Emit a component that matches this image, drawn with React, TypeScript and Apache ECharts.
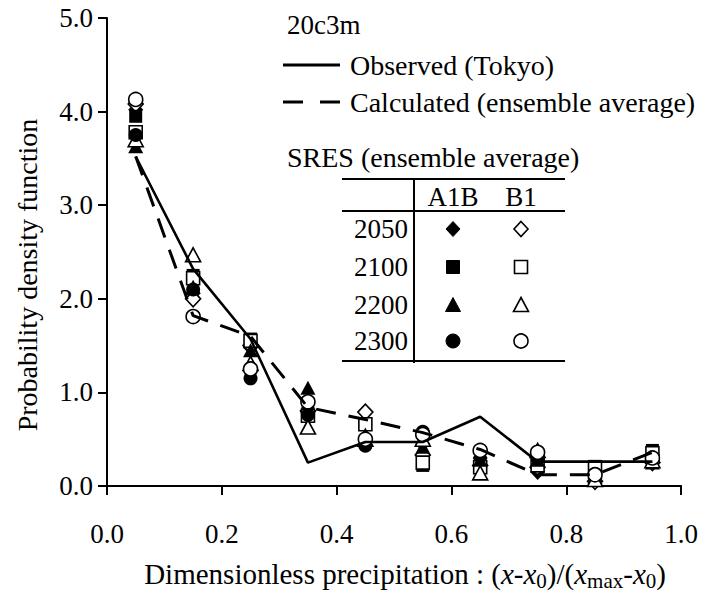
import React, { useEffect, useRef } from "react";
import * as echarts from "echarts";

const FONT = "'Liberation Serif', 'Times New Roman', Times, 'DejaVu Serif', serif";

// x positions (class centres of the dimensionless precipitation)
const xCenters = [0.05, 0.15, 0.25, 0.35, 0.45, 0.55, 0.65, 0.75, 0.85, 0.95];
const xTickLabels = ["0.0", "0.2", "0.4", "0.6", "0.8", "1.0"];
const yTickLabels = ["0.0", "1.0", "2.0", "3.0", "4.0", "5.0"];

// lines
const observedTokyo = [3.52, 2.32, 1.57, 0.25, 0.47, 0.47, 0.74, 0.26, 0.26, 0.26];
const calculatedAvg = [3.52, 1.82, 1.6, 0.84, 0.71, 0.57, 0.39, 0.12, 0.12, 0.36];

// SRES ensemble averages
const a1b2050 = [4.02, 2.06, 1.48, 0.78, 0.52, 0.45, 0.3, 0.15, 0.08, 0.28];
const b12050 = [4.08, 2.0, 1.5, 0.8, 0.79, 0.33, 0.22, 0.2, 0.05, 0.25];
const a1b2100 = [3.95, 2.25, 1.57, 0.78, 0.47, 0.22, 0.25, 0.25, 0.21, 0.38];
const b12100 = [3.78, 2.22, 1.55, 0.75, 0.66, 0.25, 0.2, 0.22, 0.2, 0.35];
const a1b2200 = [3.63, 2.13, 1.45, 1.05, 0.55, 0.42, 0.28, 0.28, 0.1, 0.25];
const b12200 = [3.7, 2.47, 1.31, 0.63, 0.5, 0.5, 0.14, 0.38, 0.07, 0.27];
const a1b2300 = [3.75, 2.1, 1.15, 0.76, 0.43, 0.58, 0.38, 0.3, 0.13, 0.3];
const b12300 = [4.13, 1.81, 1.25, 0.9, 0.5, 0.55, 0.38, 0.36, 0.12, 0.3];

const years = ["2050", "2100", "2200", "2300"];
const scenarios = ["A1B", "B1"];

const markerSeries = [
  { name: "A1B 2050", data: a1b2050, symbol: "diamond", size: [15, 16], open: false },
  { name: "B1 2050", data: b12050, symbol: "diamond", size: [15, 16], open: true },
  { name: "A1B 2100", data: a1b2100, symbol: "rect", size: [13, 13], open: false },
  { name: "B1 2100", data: b12100, symbol: "rect", size: [13, 13], open: true },
  { name: "A1B 2200", data: a1b2200, symbol: "triangle", size: [15, 14], open: false },
  { name: "B1 2200", data: b12200, symbol: "triangle", size: [15, 14], open: true },
  { name: "A1B 2300", data: a1b2300, symbol: "circle", size: [14, 14], open: false },
  { name: "B1 2300", data: b12300, symbol: "circle", size: [14, 14], open: true },
];

function pairs(vals: number[]) {
  return xCenters.map((x, i) => [x, vals[i]]);
}

function tableMarker(kind: string, cx: number, cy: number, open: boolean) {
  const style = open
    ? { fill: "#fff", stroke: "#000", lineWidth: 1.6 }
    : { fill: "#000", stroke: "#000", lineWidth: 1 };
  if (kind === "diamond") {
    return { type: "polygon", shape: { points: [[cx, cy - 7.5], [cx + 7, cy], [cx, cy + 7.5], [cx - 7, cy]] }, style };
  }
  if (kind === "rect") {
    return { type: "rect", shape: { x: cx - 6.5, y: cy - 6.5, width: 13, height: 13 }, style };
  }
  if (kind === "triangle") {
    return { type: "polygon", shape: { points: [[cx, cy - 7.5], [cx + 7.5, cy + 6.5], [cx - 7.5, cy + 6.5]] }, style };
  }
  return { type: "circle", shape: { cx, cy, r: 7 }, style };
}

function txt(text: string, x: number, y: number, align: string = "left", size: number = 28) {
  return {
    type: "text",
    style: {
      text,
      x,
      y,
      fill: "#000",
      fontSize: size,
      fontFamily: FONT,
      align,
      verticalAlign: "middle",
      textAlign: align,
      textVerticalAlign: "middle",
    },
  };
}

function hline(x1: number, x2: number, y: number, w = 2, dash?: number[]) {
  return {
    type: "line",
    shape: { x1, y1: y, x2, y2: y },
    style: { stroke: "#000", lineWidth: w, lineDash: dash },
  };
}

export default function App() {
  const ref = useRef<HTMLDivElement>(null);

  useEffect(() => {
    if (!ref.current) return;
    const chart = echarts.init(ref.current, null, { renderer: "svg" });

    const graphics: any[] = [];
    graphics.push(txt("20c3m", 287, 25, "left", 27));
    graphics.push(hline(283, 340, 65, 3));
    graphics.push(txt("Observed (Tokyo)", 350, 65));
    graphics.push(hline(283, 340, 102, 3, [20, 17]));
    graphics.push(txt("Calculated (ensemble average)", 350, 102));
    graphics.push(txt("SRES (ensemble average)", 287, 157));
    // table
    graphics.push(hline(342, 565, 179));
    graphics.push(hline(342, 565, 211));
    graphics.push(hline(342, 565, 361));
    graphics.push({
      type: "line",
      shape: { x1: 414, y1: 179, x2: 414, y2: 363 },
      style: { stroke: "#000", lineWidth: 2 },
    });
    const colX = [453, 521];
    graphics.push(txt(scenarios[0], colX[0], 197, "center", 27));
    graphics.push(txt(scenarios[1], colX[1], 197, "center", 27));
    const rowY = [229, 267, 305, 341];
    const kinds = ["diamond", "rect", "triangle", "circle"];
    years.forEach((yr, r) => {
      graphics.push(txt(yr, 408, rowY[r], "right", 27));
      graphics.push(tableMarker(kinds[r], colX[0], rowY[r], false));
      graphics.push(tableMarker(kinds[r], colX[1], rowY[r], true));
    });

    const series: any[] = markerSeries.map((s) => ({
      name: s.name,
      type: "scatter",
      data: pairs(s.data),
      symbol: s.symbol,
      symbolSize: s.size,
      z: 2,
      itemStyle: s.open
        ? { color: "#fff", borderColor: "#000", borderWidth: 1.6, opacity: 1 }
        : { color: "#000", borderColor: "#000", borderWidth: 0, opacity: 1 },
      emphasis: { disabled: true },
    }));
    series.push({
      name: "Observed (Tokyo)",
      type: "line",
      data: pairs(observedTokyo),
      symbol: "none",
      z: 3,
      lineStyle: { color: "#000", width: 2.6, type: "solid" },
    });
    series.push({
      name: "Calculated (ensemble average)",
      type: "line",
      data: pairs(calculatedAvg),
      symbol: "none",
      z: 3,
      lineStyle: { color: "#000", width: 3, type: [20, 13] },
    });

    const labelStyle = { color: "#000", fontSize: 27, fontFamily: FONT };

    chart.setOption({
      animation: false,
      backgroundColor: "#fff",
      textStyle: { fontFamily: FONT },
      grid: { left: 107, right: 16, top: 18, bottom: 104, containLabel: false },
      xAxis: {
        type: "value",
        min: 0,
        max: 1,
        interval: 0.2,
        splitLine: { show: false },
        axisLine: { lineStyle: { color: "#000", width: 2 } },
        axisTick: { inside: false, length: 9, lineStyle: { color: "#000", width: 2 } },
        axisLabel: {
          ...labelStyle,
          margin: 34,
          formatter: (v: number) => xTickLabels[Math.round(v / 0.2)] ?? v.toFixed(1),
        },
        name: "Dimensionless precipitation : ({i|x}-{i|x}{sub|0})/({i|x}{sub|max}-{i|x}{sub|0})",
        nameLocation: "middle",
        nameGap: 70,
        nameTextStyle: {
          color: "#000",
          fontSize: 29,
          fontFamily: FONT,
          padding: [0, 0, 0, 22],
          rich: {
            i: { fontStyle: "italic", fontSize: 29, fontFamily: FONT, color: "#000" },
            sub: { fontSize: 21, fontFamily: FONT, color: "#000", verticalAlign: "bottom", padding: [14, 0, 0, 0] },
          },
        },
      },
      yAxis: {
        type: "value",
        min: 0,
        max: 5,
        interval: 1,
        splitLine: { show: false },
        axisLine: { show: true, lineStyle: { color: "#000", width: 2 } },
        axisTick: { show: true, inside: false, length: 9, lineStyle: { color: "#000", width: 2 } },
        axisLabel: {
          ...labelStyle,
          margin: 14,
          formatter: (v: number) => yTickLabels[Math.round(v)] ?? v.toFixed(1),
        },
        name: "Probability density function",
        nameLocation: "middle",
        nameGap: 66,
        nameRotate: 90,
        nameTextStyle: { color: "#000", fontSize: 28, fontFamily: FONT, padding: [0, 46, 0, 0] },
      },
      graphic: graphics,
      series,
    });

    return () => chart.dispose();
  }, []);

  return (
    <div
      ref={ref}
      style={{ position: "fixed", left: 0, top: 0, width: 701, height: 596, background: "#fff" }}
    />
  );
}
